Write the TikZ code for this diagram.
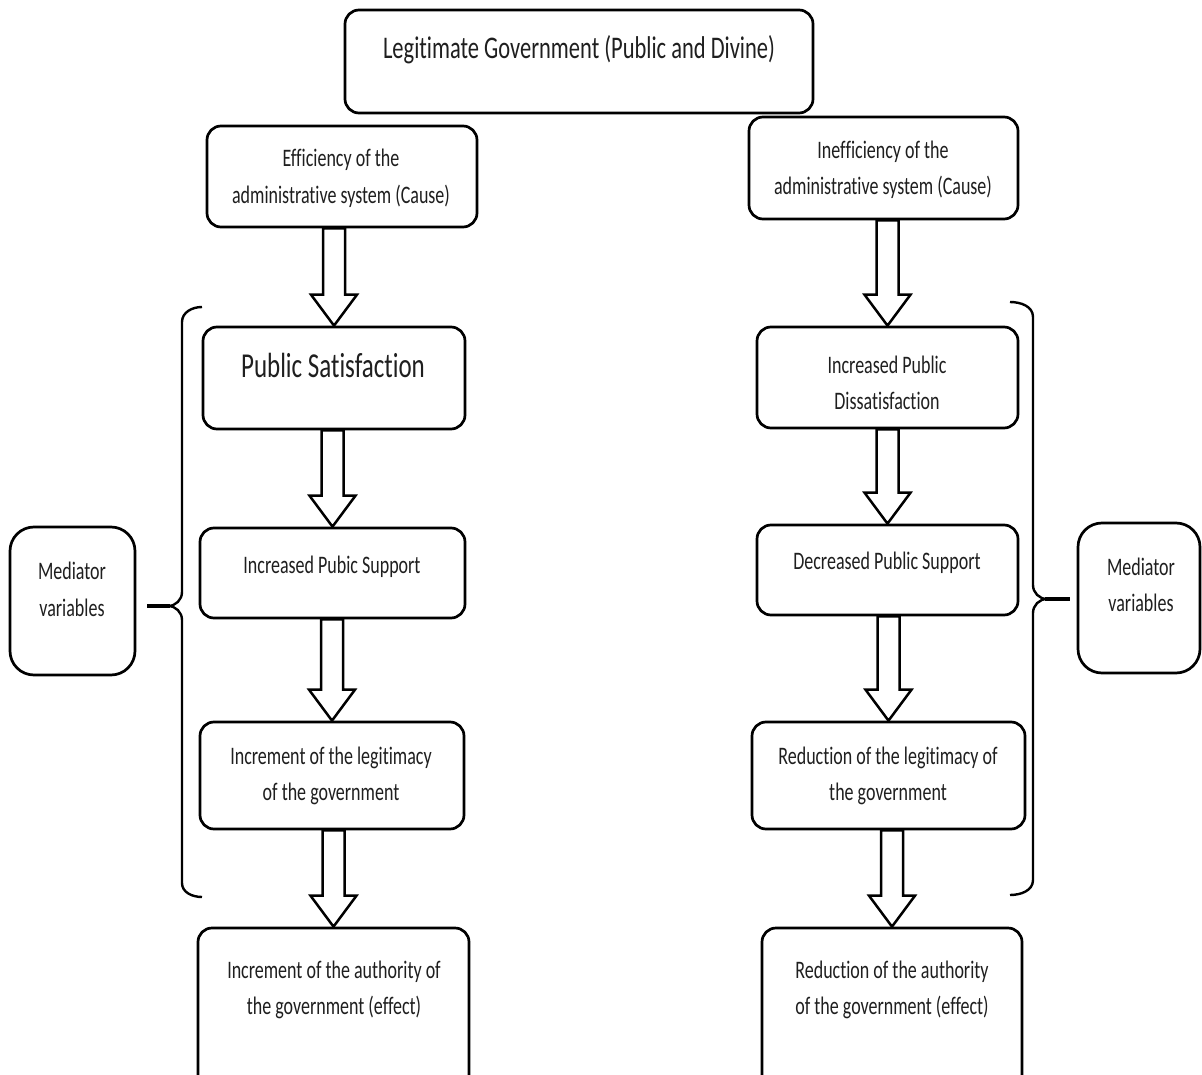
\documentclass[tikz,border=0pt]{standalone}
\usepackage{fontspec}
\setmainfont{Carlito}[FakeStretch=0.714, Ligatures=NoCommon]
\usetikzlibrary{calc}
\tikzset{
  box/.style={draw, line width=2.7pt, rounded corners=14pt, fill=white, inner sep=0pt},
  medbox/.style={box, rounded corners=24pt},
  txt/.style={align=center, inner sep=0pt, text=black!88,
    font=\fontsize{25.2}{36.5}\selectfont},
  onetxt/.style={txt, text height=18.2pt, text depth=5.6pt},
  bigtxt/.style={txt, font=\fontsize{35}{40}\selectfont, text height=25.2pt, text depth=7pt},
  titletxt/.style={txt, font=\fontsize{31.5}{38}\selectfont, text height=22.4pt, text depth=7pt},
  blockarr/.style={draw, line width=2.5pt, fill=white, line join=miter},
  brk/.style={draw, line width=2.4pt},
  brktick/.style={draw, line width=3.6pt},
}
\newcommand{\barrow}[2]{%
  \draw[blockarr] let \p1=(#2.north), \p2=(#1.south) in
    (\x1-11pt,\y2) -- (\x1-11pt,\y1+31pt) -- (\x1-23pt,\y1+31pt) -- (\x1,\y1)
    -- (\x1+23pt,\y1+31pt) -- (\x1+11pt,\y1+31pt) -- (\x1+11pt,\y2) -- cycle;}
\begin{document}
\begin{tikzpicture}[x=1pt,y=-1pt]
\useasboundingbox (0,0) rectangle (1202,1075);
\clip (0,0) rectangle (1202,1075);
\fill[white] (0,0) rectangle (1202,1075);

% boxes
\node[box, minimum width=468, minimum height=103] (title) at (579,61.5) {};
\node[box, minimum width=270, minimum height=101] (eff) at (342,176.5) {};
\node[box, minimum width=269, minimum height=102] (ineff) at (883.5,168) {};
\node[box, minimum width=262, minimum height=102] (pubsat) at (334,378) {};
\node[box, minimum width=261, minimum height=101] (dissat) at (887.5,377.5) {};
\node[box, minimum width=265, minimum height=90] (supp) at (332.5,573) {};
\node[box, minimum width=261, minimum height=90] (dsupp) at (887.5,570) {};
\node[box, minimum width=264, minimum height=107] (legit) at (332,775.5) {};
\node[box, minimum width=273, minimum height=107] (rlegit) at (888.5,775.5) {};
\node[box, minimum width=271, minimum height=182] (auth) at (333.5,1019) {};
\node[box, minimum width=260, minimum height=182] (rauth) at (892,1019) {};
\node[medbox, minimum width=125, minimum height=148] (medL) at (72.5,601) {};
\node[medbox, minimum width=122, minimum height=150] (medR) at (1139,598) {};

% arrows
\barrow{eff}{pubsat}
\barrow{pubsat}{supp}
\barrow{supp}{legit}
\barrow{legit}{auth}
\barrow{ineff}{dissat}
\barrow{dissat}{dsupp}
\barrow{dsupp}{rlegit}
\barrow{rlegit}{rauth}

% texts
\node[titletxt] (ttitle) at (579,51) {Legitimate Government (Public and Divine)};
\node[txt] (teff) at (341,178.5) {Efficiency of the\\administrative system (Cause)};
\node[txt] (tineff) at (883,170) {Inefficiency of the\\administrative system (Cause)};
\node[bigtxt] (tpubsat) at (333,368) {Public Satisfaction};
\node[txt] (tdissat) at (887,383) {Increased Public\\Dissatisfaction};
\node[onetxt] (tsupp) at (332,567) {Increased Pubic Support};
\node[onetxt] (tdsupp) at (887,563) {Decreased Public Support};
\node[txt] (tlegit) at (331,776) {Increment of the legitimacy\\of the government};
\node[txt] (trlegit) at (888,776) {Reduction of the legitimacy of\\the government};
\node[txt] (tauth) at (334,990) {Increment of the authority of\\the government (effect)};
\node[txt] (trauth) at (892,990) {Reduction of the authority\\of the government (effect)};
\node[txt] (tmedL) at (72,589.5) {Mediator\\variables};
\node[txt] (tmedR) at (1141,585) {Mediator\\variables};

% brackets
\draw[brk] (202,307) to[out=180,in=90] (182,322) -- (182,592) to[out=-90,in=0] (168,606);
\draw[brk] (168,606) to[out=0,in=90] (182,620) -- (182,883) to[out=-90,in=180] (202,897);
\draw[brktick] (147,606) -- (170,606);
\draw[brk] (1010,302) to[out=0,in=90] (1033,317) -- (1033,585) to[out=-90,in=180] (1047,599);
\draw[brk] (1047,599) to[out=180,in=90] (1033,613) -- (1033,880) to[out=-90,in=0] (1010,895);
\draw[brktick] (1045,599) -- (1070,599);
\end{tikzpicture}
\end{document}
